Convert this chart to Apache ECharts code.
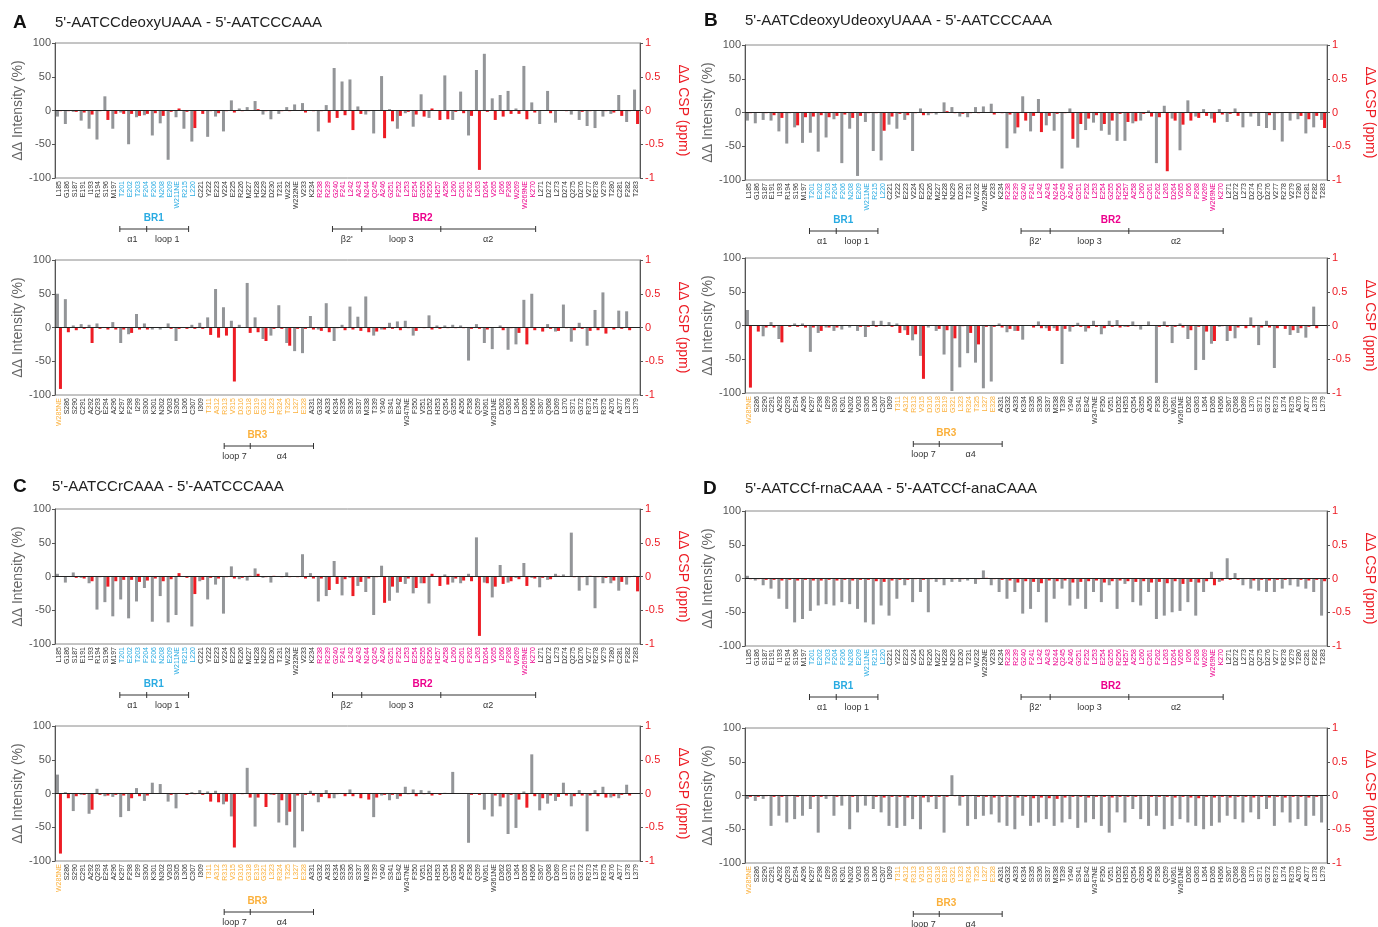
<!DOCTYPE html>
<html>
<head>
<meta charset="utf-8">
<script src="https://cdn.jsdelivr.net/npm/echarts@6/dist/echarts.min.js"></script>
<style>
  html, body { margin: 0; padding: 0; background: #fff; }
  #main { width: 1378px; height: 927px; }
</style>
</head>
<body>
<div id="main"></div>
<script>
// residues
const topResidues = ['L185','G186','S187','E191','I193','R194','S196','M197','T201','E202','T203','F204','F206','N208','E209','W211NE','R215','L220','C221','Y222','E223','V224','E225','R226','M227','H228','N229','D230','T231','W232','W232NE','V233','K234','R238','R239','G240','F241','L242','A243','N244','Q245','A246','G251','F252','L253','E254','G255','R256','H257','A258','L260','C261','F262','L263','D264','V265','I266','F268','W269','W269NE','K270','L271','D272','L273','D274','Q275','D276','V277','R278','V279','T280','C281','F282','T283']
const bottomResidues = ['W285NE','S286','S290','C291','A292','Q293','E294','A296','K297','F298','I299','S300','K301','N302','V303','S305','L306','C307','I309','T311','A312','R313','V315','D316','G318','E319','G321','L323','R324','T325','L327','E328','A331','G332','A333','K334','S335','S336','S337','M338','T339','Y340','S341','E342','W347NE','F350','V351','D352','H353','Q354','G355','A356','F358','Q359','W361','W361NE','D362','G363','L364','D365','H366','S367','Q368','D369','L370','S371','G372','R373','L374','R375','A376','A377','L378','L379']

// ΔΔ intensity (%) and ΔΔ CSP (ppm)
const aTopGray = [-9,-20,-2,-15,-27,-43,21,-27,-3,-50,-10,-7,-37,-19,-73,-10,-27,-46,0,-39,-9,-31,15,3,5,14,-6,-13,-5,5,9,11,0,-31,8,63,43,46,6,-6,-34,51,2,-27,-4,-24,24,-11,0,52,-14,28,-37,60,84,18,23,29,3,66,12,-20,29,-18,0,-6,-14,-23,-26,-9,-5,23,-17,31]
const aTopRed = [-0.01,-0.01,-0.02,-0.03,-0.06,-0.01,-0.14,-0.05,-0.05,-0.05,-0.08,-0.05,-0.04,-0.08,-0.02,0.03,-0.02,-0.26,-0.05,-0.01,-0.04,-0.01,-0.03,-0.01,0,0.02,-0.01,0,-0.01,-0.01,0,-0.03,-0.01,-0.01,-0.18,-0.11,-0.07,-0.29,-0.05,-0.01,0,-0.41,-0.16,-0.08,-0.02,-0.06,-0.09,0.03,-0.14,-0.13,-0.02,-0.04,-0.08,-0.88,-0.02,-0.14,-0.09,-0.05,-0.05,-0.13,-0.03,0,-0.04,0,-0.01,0,-0.02,-0.01,0,-0.01,-0.03,-0.08,-0.01,-0.2]
const aBotGray = [50,42,3,5,4,6,0,8,-23,-10,20,6,-3,-3,6,-20,0,4,7,15,57,30,10,4,66,15,-17,-12,33,-23,-35,-38,17,-3,36,-20,4,31,16,46,-12,-3,7,9,10,-12,0,18,3,3,4,3,-49,5,-23,-32,3,-33,-25,41,50,0,5,-6,34,-21,7,-27,26,52,0,25,24,0]
const aBotRed = [-0.91,-0.07,-0.04,-0.02,-0.23,-0.02,-0.03,-0.03,-0.03,-0.08,-0.03,-0.03,0,0,-0.02,-0.02,-0.02,-0.02,-0.02,-0.11,-0.15,-0.12,-0.8,0,-0.08,-0.07,-0.2,-0.02,-0.02,-0.27,-0.02,-0.02,-0.03,-0.05,-0.07,-0.01,-0.04,-0.03,-0.05,-0.07,-0.06,-0.03,-0.02,-0.04,-0.01,-0.05,-0.01,-0.03,-0.02,-0.01,-0.01,-0.01,-0.02,-0.02,-0.03,0,-0.04,-0.01,-0.08,-0.25,-0.04,-0.06,-0.02,-0.05,-0.01,-0.04,-0.02,-0.05,-0.04,-0.09,-0.03,-0.02,-0.04,0]
const bTopGray = [-12,-16,-11,-12,-28,-46,-22,-45,-30,-58,-37,-10,-75,-24,-94,-14,-57,-71,-18,-24,-11,-57,6,-4,-3,15,8,-6,-7,8,9,13,0,-53,-31,24,-28,20,-19,-27,-83,6,-52,-26,-15,-27,-33,-42,-42,-16,-12,3,-75,10,-9,-56,18,-6,5,-9,5,-14,6,-22,-6,-20,-23,-26,-43,-12,-10,-31,-22,-11]
const bTopRed = [-0.01,0,-0.01,-0.04,-0.08,-0.01,-0.19,-0.07,-0.06,-0.04,-0.07,-0.05,-0.03,-0.08,-0.05,-0.01,-0.01,-0.27,-0.06,-0.02,-0.04,-0.01,-0.04,-0.01,0,0.02,-0.01,-0.02,-0.01,-0.01,0,-0.03,-0.01,-0.03,-0.22,-0.12,-0.05,-0.29,-0.05,-0.02,-0.01,-0.39,-0.17,-0.09,-0.04,-0.17,-0.12,-0.02,-0.14,-0.13,-0.02,-0.06,-0.07,-0.87,-0.12,-0.18,-0.12,-0.08,-0.05,-0.15,-0.03,-0.02,-0.05,0,-0.01,0,-0.04,-0.01,0,-0.01,-0.05,-0.1,-0.05,-0.23]
const bBotGray = [23,0,-16,5,-20,0,3,3,-39,-11,-3,-8,-6,-3,-8,-17,7,7,5,3,-7,-22,-45,-3,-8,-43,-97,-62,-41,-55,-93,-83,3,-10,-8,-21,0,6,-4,-4,-57,-9,4,-9,7,-13,7,8,-2,6,-6,6,-85,6,-26,3,-20,-66,-51,-27,-2,-23,-19,0,12,-29,7,-63,0,-14,-11,-18,28,0]
const bBotRed = [-0.92,-0.09,-0.03,-0.03,-0.25,-0.02,-0.02,-0.03,-0.03,-0.08,-0.03,-0.03,0,0,-0.02,-0.02,-0.02,-0.01,-0.02,-0.11,-0.14,-0.13,-0.79,0,-0.05,-0.07,-0.19,-0.01,-0.11,-0.28,-0.02,-0.02,-0.03,-0.05,-0.08,0,-0.03,-0.04,-0.08,-0.08,-0.05,-0.02,-0.02,-0.04,-0.02,-0.04,-0.02,-0.03,-0.02,-0.01,0,0,-0.02,-0.02,-0.02,-0.03,-0.07,-0.02,-0.09,-0.23,-0.01,-0.08,-0.03,-0.04,-0.03,-0.03,-0.03,-0.04,-0.05,-0.07,-0.04,-0.02,-0.04,0]
const cTopGray = [4,-9,6,-2,-10,-49,-38,-59,-34,-62,-37,-17,-67,-29,-68,-57,0,-74,-7,-34,-12,-55,15,-4,-6,12,-2,-9,0,6,0,33,5,-37,-29,23,-28,-2,-14,-23,-57,16,-36,-24,-11,-25,-10,-40,0,3,-9,-10,4,58,-9,-31,17,-9,-2,20,-2,-16,-5,4,3,65,-21,-13,-47,-10,-10,-21,-12,1]
const cTopRed = [0,0,-0.02,-0.03,-0.07,-0.01,-0.15,-0.07,-0.05,-0.05,-0.08,-0.06,-0.03,-0.07,-0.04,0.05,-0.02,-0.26,-0.05,-0.02,-0.03,-0.01,-0.03,-0.02,0.01,0.04,-0.01,0.01,-0.01,-0.01,-0.01,-0.03,-0.03,-0.03,-0.2,-0.11,-0.04,-0.29,-0.08,-0.03,-0.01,-0.39,-0.15,-0.08,-0.03,-0.17,-0.1,0.04,-0.14,-0.12,-0.03,-0.06,-0.07,-0.88,-0.1,-0.15,-0.11,-0.07,-0.04,-0.14,-0.03,-0.02,-0.04,0.01,0,-0.01,-0.01,0.01,-0.01,-0.02,-0.06,-0.08,-0.01,-0.22]
const cBotGray = [28,2,-26,-2,-30,7,-4,-5,-35,-26,8,-11,16,14,-12,-22,0,2,5,3,4,-16,-34,0,38,-49,0,-2,-43,-47,-80,-56,4,-13,5,-7,0,6,0,0,-35,-3,-10,-8,10,6,5,4,0,1,32,0,-73,0,-24,-34,-19,-60,-51,3,58,-25,-15,-11,16,-19,5,-56,5,10,-6,-7,13,0]
const cBotRed = [-0.89,-0.07,-0.04,-0.02,-0.24,-0.02,-0.03,-0.02,-0.03,-0.07,-0.04,-0.03,0,0,-0.02,0,-0.02,-0.01,-0.02,-0.12,-0.13,-0.12,-0.8,-0.01,-0.06,-0.06,-0.2,-0.02,-0.1,-0.27,-0.03,-0.02,-0.03,-0.05,-0.07,-0.01,-0.04,-0.04,-0.07,-0.09,-0.06,-0.02,-0.02,-0.04,-0.01,-0.04,-0.01,-0.03,-0.02,0,0,0,-0.02,-0.02,0,-0.03,-0.06,-0.02,-0.09,-0.21,-0.04,-0.07,-0.03,-0.05,-0.03,-0.04,-0.03,-0.03,-0.04,-0.06,-0.04,-0.02,-0.03,0]
const dTopGray = [4,-3,-10,-15,-30,-45,-65,-60,-48,-40,-38,-40,-35,-38,-45,-65,-68,-40,-55,-30,-10,-35,-20,-50,-5,-10,-5,-5,-3,-8,12,-10,-20,-30,-20,-52,-45,-20,-65,-30,-15,-40,-30,-45,-20,-35,-10,-45,-8,-35,-40,-20,-60,-55,-50,-48,-35,-55,-20,10,-5,30,8,-10,-15,-18,-20,-20,-15,-10,-12,-15,-20,-55]
const dTopRed = [-0.01,-0.01,-0.02,-0.02,-0.03,-0.02,-0.03,-0.02,-0.03,-0.03,-0.02,-0.03,-0.02,-0.03,-0.02,-0.02,-0.04,-0.05,-0.03,-0.02,-0.02,-0.01,-0.02,-0.01,-0.01,0,-0.01,-0.01,0,-0.01,0.01,-0.01,-0.02,-0.03,-0.06,-0.04,-0.05,-0.07,-0.03,-0.04,-0.03,-0.06,-0.05,-0.04,-0.03,-0.06,-0.04,-0.03,-0.04,-0.05,-0.04,-0.06,-0.05,-0.07,-0.04,-0.08,-0.05,-0.06,-0.04,-0.1,-0.03,-0.02,-0.02,-0.01,-0.03,-0.02,-0.03,-0.02,-0.02,-0.01,-0.02,-0.03,-0.02,-0.04]
const dBotGray = [-5,-8,-5,-45,-30,-40,-35,-30,-20,-55,-5,-30,-15,-50,-25,-15,-20,-25,-45,-48,-45,-35,-50,-10,-20,-55,30,-15,-45,-35,-30,-28,-40,-45,-50,-30,-45,-40,-35,-45,-40,-35,-48,-40,-35,-45,-55,-25,-40,-20,-35,-45,-30,-50,-45,-35,-40,-45,-50,-45,-40,-30,-35,-40,-25,-35,-20,-45,-25,-40,-35,-45,-30,-40]
const dBotRed = [-0.02,-0.02,-0.01,-0.02,-0.02,-0.01,-0.02,-0.01,-0.02,-0.02,-0.01,-0.02,-0.01,-0.02,-0.01,-0.01,-0.02,-0.03,-0.02,-0.02,-0.03,-0.02,-0.03,-0.02,-0.02,-0.02,-0.01,-0.02,-0.01,-0.02,-0.02,-0.03,-0.02,-0.02,-0.03,-0.02,-0.04,-0.03,-0.04,-0.05,-0.03,-0.02,-0.02,-0.03,-0.02,-0.02,-0.03,-0.02,-0.02,-0.02,-0.01,-0.02,-0.02,-0.02,-0.03,-0.02,-0.03,-0.04,-0.02,-0.03,-0.02,-0.03,-0.02,-0.02,-0.03,-0.02,-0.03,-0.02,-0.03,-0.02,-0.02,-0.03,-0.02,0]

const GRAY = '#939598'
const RED = '#ed1c24'
const BLUE = '#29abe2'
const PINK = '#ec008c'
const GOLD = '#fbb03b'
const FONT = '"Liberation Sans", Arial, sans-serif'

const panels = [
  { left: 55, top: 43, w: 585, kind: 'top', gray: aTopGray, red: aTopRed },
  { left: 55, top: 260, w: 585, kind: 'bottom', gray: aBotGray, red: aBotRed },
  { left: 745, top: 45, w: 590, kind: 'top', gray: bTopGray, red: bTopRed },
  { left: 745, top: 258, w: 590, kind: 'bottom', gray: bBotGray, red: bBotRed },
  { left: 55, top: 509, w: 585, kind: 'top', gray: cTopGray, red: cTopRed },
  { left: 55, top: 726, w: 585, kind: 'bottom', gray: cBotGray, red: cBotRed },
  { left: 745, top: 511, w: 590, kind: 'top', gray: dTopGray, red: dTopRed },
  { left: 745, top: 728, w: 590, kind: 'bottom', gray: dBotGray, red: dBotRed }
]
const PH = 135

const titles = [
  { letter: 'A', lx: 13, x: 55, y: 24, text: "5'-AATCCdeoxyUAAA - 5'-AATCCCAAA" },
  { letter: 'B', lx: 704, x: 745, y: 22, text: "5'-AATCdeoxyUdeoxyUAAA - 5'-AATCCCAAA" },
  { letter: 'C', lx: 13, x: 52, y: 488, text: "5'-AATCCrCAAA - 5'-AATCCCAAA" },
  { letter: 'D', lx: 703, x: 745, y: 490, text: "5'-AATCCf-rnaCAAA - 5'-AATCCf-anaCAAA" }
]

// binding-region brackets, positions in category units
const annos = {
  top: {
    regions: [{ text: 'BR1', at: 12.0, color: BLUE }, { text: 'BR2', at: 46.0, color: PINK }],
    brackets: [[7.7, 11.1, 16.4], [34.6, 38.3, 48.3, 60.3]],
    segs: [{ text: 'α1', at: 9.3 }, { text: 'loop 1', at: 13.7 }, { text: "β2'", at: 36.4 }, { text: 'loop 3', at: 43.3 }, { text: 'α2', at: 54.3 }]
  },
  bottom: {
    regions: [{ text: 'BR3', at: 25.1, color: GOLD }],
    brackets: [[20.9, 24.2, 32.2]],
    segs: [{ text: 'loop 7', at: 22.2 }, { text: 'α4', at: 28.2 }]
  }
}

function labelColor (kind) {
  return function (value, index) {
    if (kind === 'top') {
      if (index >= 8 && index <= 17) return BLUE
      if (index >= 33 && index <= 60) return PINK
    } else {
      if (index === 0 || (index >= 19 && index <= 31)) return GOLD
    }
    return '#333'
  }
}

let grids = []
let xAxes = []
let yAxes = []
let series = []
panels.forEach(function (p, i) {
  grids.push({ left: p.left, top: p.top, width: p.w, height: PH, show: true, borderColor: '#8a8a8a', borderWidth: 1 })
  xAxes.push({
    type: 'category',
    gridIndex: i,
    data: p.kind === 'top' ? topResidues : bottomResidues,
    axisLine: { lineStyle: { color: '#555' } },
    axisTick: { alignWithLabel: true, interval: 0, length: 3, lineStyle: { color: '#555' } },
    axisLabel: { interval: 0, rotate: 90, fontSize: 7, margin: 3, fontFamily: FONT, color: labelColor(p.kind) }
  })
  yAxes.push({
    type: 'value',
    gridIndex: i,
    min: -100,
    max: 100,
    interval: 50,
    name: 'ΔΔ Intensity (%)',
    nameLocation: 'middle',
    nameGap: 30,
    nameTextStyle: { color: '#666', fontSize: 14, fontFamily: FONT },
    axisLine: { show: true, lineStyle: { color: '#555' } },
    axisTick: { show: true, length: 3, lineStyle: { color: '#555' } },
    axisLabel: { color: '#555', fontSize: 11, margin: 4, fontFamily: FONT },
    splitLine: { show: false }
  })
  yAxes.push({
    type: 'value',
    gridIndex: i,
    position: 'right',
    min: -1,
    max: 1,
    interval: 0.5,
    name: 'ΔΔ CSP (ppm)',
    nameLocation: 'middle',
    nameRotate: -90,
    nameGap: 36,
    nameTextStyle: { color: RED, fontSize: 14, fontFamily: FONT },
    axisLine: { show: true, lineStyle: { color: '#555' } },
    axisTick: { show: true, length: 3, lineStyle: { color: '#555' } },
    axisLabel: { color: RED, fontSize: 11, margin: 5, fontFamily: FONT },
    splitLine: { show: false }
  })
  series.push({
    type: 'bar',
    xAxisIndex: i,
    yAxisIndex: 2 * i,
    data: p.gray,
    barWidth: 3,
    barGap: '0%',
    itemStyle: { color: GRAY },
    markLine: {
      silent: true,
      symbol: 'none',
      label: { show: false },
      lineStyle: { color: '#222', width: 1, type: 'solid' },
      data: [{ yAxis: 0 }]
    }
  })
  series.push({
    type: 'bar',
    xAxisIndex: i,
    yAxisIndex: 2 * i + 1,
    data: p.red,
    barWidth: 3,
    barGap: '0%',
    itemStyle: { color: RED }
  })
})

const chart = echarts.init(document.getElementById('main'))
chart.setOption({
  animation: false,
  backgroundColor: '#fff',
  textStyle: { fontFamily: FONT },
  grid: grids,
  xAxis: xAxes,
  yAxis: yAxes,
  series: series
})

// titles and bracket annotations placed from the axis scale
let graphics = []
titles.forEach(function (t) {
  graphics.push({ type: 'text', left: t.lx, top: t.y - 11, style: { text: t.letter, font: 'bold 19px ' + FONT, fill: '#111' } })
  graphics.push({ type: 'text', left: t.x, top: t.y - 9, style: { text: t.text, font: '15px ' + FONT, fill: '#222' } })
})
panels.forEach(function (p, i) {
  const n = (p.kind === 'top' ? topResidues : bottomResidues).length
  const x0 = chart.convertToPixel({ xAxisIndex: i }, 0)
  const x1 = chart.convertToPixel({ xAxisIndex: i }, n - 1)
  const px = function (at) { return x0 + (x1 - x0) * at / (n - 1) }
  const base = p.top + PH
  const a = annos[p.kind]
  a.regions.forEach(function (r) {
    graphics.push({ type: 'text', x: px(r.at), y: base + 40, style: { text: r.text, font: 'bold 10px ' + FONT, fill: r.color, align: 'center', verticalAlign: 'middle' } })
  })
  a.brackets.forEach(function (b) {
    const y = base + 51
    graphics.push({ type: 'line', shape: { x1: px(b[0]), y1: y, x2: px(b[b.length - 1]), y2: y }, style: { stroke: '#333', lineWidth: 1 } })
    b.forEach(function (at) {
      graphics.push({ type: 'line', shape: { x1: px(at), y1: y - 3, x2: px(at), y2: y + 3 }, style: { stroke: '#333', lineWidth: 1 } })
    })
  })
  a.segs.forEach(function (s) {
    graphics.push({ type: 'text', x: px(s.at), y: base + 62, style: { text: s.text, font: '9px ' + FONT, fill: '#333', align: 'center', verticalAlign: 'middle' } })
  })
})
chart.setOption({ graphic: graphics })
</script>
</body>
</html>
